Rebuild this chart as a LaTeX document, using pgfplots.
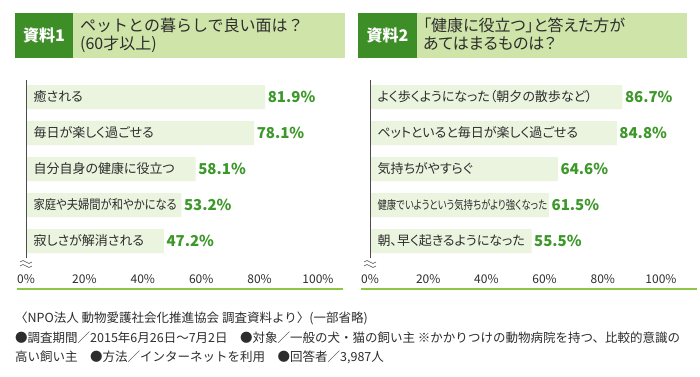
\documentclass[border=0pt]{standalone}
\usepackage{pgfplots}
\pgfplotsset{compat=1.18}
\usepackage{graphicx}
\usepackage{fontspec}
\setmainfont{Noto Sans CJK JP}
\newfontfamily\pfont[RawFeature=+palt]{Noto Sans CJK JP}
\definecolor{barfill}{RGB}{234,244,222}
\definecolor{dkgreen}{RGB}{62,142,39}
\definecolor{ltgreen}{RGB}{207,228,169}
\definecolor{valgreen}{RGB}{60,152,40}
\definecolor{linegreen}{RGB}{140,200,70}
\definecolor{txt}{RGB}{45,45,45}
\pgfplotstableread{
y v
1 81.9
2 78.1
3 58.1
4 53.2
5 47.2
}\leftdata
\pgfplotstableread{
y v
1 86.7
2 84.8
3 64.6
4 61.5
5 55.5
}\rightdata
\pgfplotsset{
  panel/.style={
    scale only axis, height=178pt,
    xmin=0, xmax=100, ymin=0.528, ymax=5.472, y dir=reverse,
    axis on top=true,
    axis lines*=left,
    x axis line style={draw=none},
    y axis line style={draw=black!70, line width=0.8pt},
    major tick length=0pt,
    xtick={0,20,40,60,80,100},
    xticklabels={0\%,20\%,40\%,60\%,80\%,100\%},
    xticklabel style={font=\fontsize{12}{12}\selectfont, text=txt, anchor=center, yshift=-21pt},
    ytick={1,2,3,4,5},
    yticklabel style={font=\pfont\fontsize{13}{13}\selectfont, text=txt, anchor=west, xshift=4pt},
    clip=false,
  },
  barplot/.style={
    xbar, bar width=24pt, draw=none, fill=barfill,
    nodes near coords={\pgfmathprintnumber[fixed,fixed zerofill,precision=1,assume math mode=true]{\pgfplotspointmeta}\%},
    point meta=explicit,
    nodes near coords style={anchor=west, inner sep=2.5pt, text=valgreen, font=\fontsize{15}{15}\selectfont\bfseries},
  },
}
\begin{document}
\begin{tikzpicture}[x=1pt,y=1pt]
\fill[white] (0,0) rectangle (700,-376);
% headers
\fill[ltgreen] (15,-13) rectangle (345,-58);
\fill[dkgreen] (15,-13) rectangle (73,-58);
\node[text=white, font=\fontsize{16}{16}\selectfont\bfseries] at (44,-35.5) {資料1};
\node[anchor=north west, text=txt, align=left, font=\fontsize{16}{18}\selectfont, inner sep=0pt] at (80,-18) {ペットとの暮らしで良い面は？\\(60才以上)};
\fill[ltgreen] (358,-13) rectangle (687,-58);
\fill[dkgreen] (358,-13) rectangle (417,-58);
\node[text=white, font=\fontsize{16}{16}\selectfont\bfseries] at (387.5,-35.5) {資料2};
\node[anchor=north west, text=txt, align=left, font=\pfont\fontsize{16}{18}\selectfont, inner sep=0pt] at (423,-18) {「健康に役立つ」と答えた方が\\あてはまるものは？};
% left panel
\begin{axis}[panel, width=292pt, at={(26pt,-258pt)}, anchor=south west,
  yticklabels={癒される,毎日が楽しく過ごせる,自分自身の健康に役立つ,{\scalebox{0.87}[1]{家庭や夫婦間が和やかになる}},寂しさが解消される}]
\addplot[barplot] table[x=v, y=y, meta=v] {\leftdata};
\end{axis}
% right panel
\begin{axis}[panel, width=291pt, at={(370pt,-258pt)}, anchor=south west,
  yticklabels={よく歩くようになった（朝夕の散歩など）,ペットといると毎日が楽しく過ごせる,気持ちがやすらぐ,{\scalebox{0.72}[0.92]{健康でいようという気持ちがより強くなった}},朝、早く起きるようになった}]
\addplot[barplot] table[x=v, y=y, meta=v] {\rightdata};
\end{axis}
% break marks
\foreach \bx in {26,370}{
  \draw[black!70, line width=0.6pt] (\bx-6,-262) sin (\bx-3,-260.5) cos (\bx,-262) sin (\bx+3,-263.5) cos (\bx+6,-262);
  \draw[black!70, line width=0.6pt] (\bx-6,-266) sin (\bx-3,-264.5) cos (\bx,-266) sin (\bx+3,-267.5) cos (\bx+6,-266);
}
% bottom lines
\draw[linegreen, line width=1.5pt] (17,-289) -- (343,-289);
\draw[linegreen, line width=1.5pt] (361,-289) -- (697,-289);
% footnote
\begin{scope}[every node/.style={anchor=west, text=txt, font=\fontsize{12.5}{12.5}\selectfont, inner sep=0pt}]
\node at (15,-318) {〈NPO法人 動物愛護社会化推進協会 調査資料より〉(一部省略)};
\node at (15,-338) {●調査期間／2015年6月26日～7月2日\quad ●対象／一般の犬・猫の飼い主 ※かかりつけの動物病院を持つ、比較的意識の};
\node at (15,-357) {高い飼い主\quad ●方法／インターネットを利用\quad ●回答者／3,987人};
\end{scope}
\end{tikzpicture}
\end{document}
